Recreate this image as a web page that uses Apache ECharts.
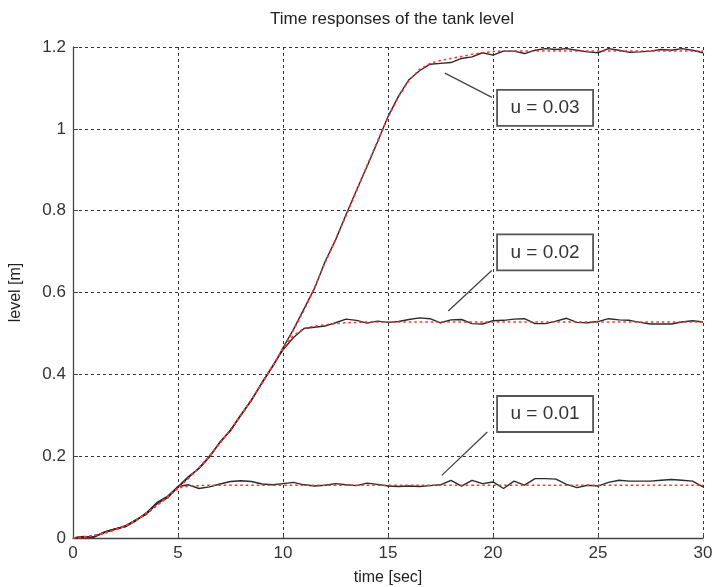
<!DOCTYPE html>
<html>
<head>
<meta charset="utf-8">
<script src="https://cdn.jsdelivr.net/npm/echarts@6/dist/echarts.min.js"></script>
<style>html,body{margin:0;padding:0;background:#fff}#c{width:713px;height:587px}</style>
</head>
<body>
<div id="c"></div>
<script>
// time samples [sec]
const time = [0,0.5,1,1.5,2,2.5,3,3.5,4,4.5,5,5.5,6,6.5,7,7.5,8,8.5,9,9.5,10,10.5,11,11.5,12,12.5,13,13.5,14,14.5,15,15.5,16,16.5,17,17.5,18,18.5,19,19.5,20,20.5,21,21.5,22,22.5,23,23.5,24,24.5,25,25.5,26,26.5,27,27.5,28,28.5,29,29.5,30];

// reference model responses (red dashed)
const ref03 = [0,0.002,0.006,0.012,0.02,0.03,0.043,0.06,0.08,0.1,0.122,0.146,0.172,0.2,0.232,0.265,0.3,0.338,0.378,0.42,0.462,0.508,0.556,0.612,0.672,0.73,0.787,0.848,0.91,0.97,1.028,1.078,1.118,1.145,1.16,1.167,1.172,1.177,1.182,1.186,1.189,1.19,1.19,1.19,1.19,1.19,1.19,1.19,1.19,1.19,1.19,1.19,1.19,1.19,1.19,1.19,1.19,1.19,1.19,1.19,1.19];
const ref02 = [0,0.002,0.006,0.012,0.02,0.03,0.043,0.06,0.08,0.1,0.122,0.146,0.172,0.2,0.232,0.265,0.3,0.338,0.378,0.42,0.462,0.495,0.512,0.518,0.521,0.524,0.526,0.527,0.528,0.528,0.528,0.528,0.528,0.528,0.528,0.528,0.528,0.528,0.528,0.528,0.528,0.528,0.528,0.528,0.528,0.528,0.528,0.528,0.528,0.528,0.528,0.528,0.528,0.528,0.528,0.528,0.528,0.528,0.528,0.528,0.528];
const ref01 = [0,0.002,0.006,0.012,0.02,0.03,0.043,0.06,0.08,0.1,0.122,0.127,0.128,0.129,0.129,0.129,0.129,0.129,0.129,0.129,0.129,0.129,0.129,0.129,0.129,0.129,0.129,0.129,0.129,0.129,0.129,0.129,0.129,0.129,0.129,0.129,0.129,0.129,0.129,0.129,0.129,0.129,0.129,0.129,0.129,0.129,0.129,0.129,0.129,0.129,0.129,0.129,0.129,0.129,0.129,0.129,0.129,0.129,0.129,0.129,0.129];

// measured tank levels (black solid)
const lvl03 = [0,0.004,0.002,0.014,0.022,0.028,0.045,0.058,0.085,0.098,0.125,0.15,0.17,0.198,0.235,0.262,0.302,0.336,0.38,0.418,0.465,0.51,0.56,0.61,0.675,0.728,0.79,0.85,0.908,0.968,1.03,1.08,1.12,1.142,1.158,1.16,1.162,1.172,1.176,1.186,1.18,1.19,1.19,1.184,1.192,1.196,1.194,1.196,1.192,1.188,1.186,1.196,1.192,1.187,1.188,1.19,1.194,1.192,1.196,1.192,1.186];
const lvl02 = [0,0.003,0.004,0.013,0.021,0.03,0.044,0.06,0.083,0.1,0.124,0.148,0.171,0.2,0.233,0.264,0.3,0.338,0.379,0.42,0.46,0.49,0.512,0.515,0.518,0.526,0.535,0.532,0.525,0.53,0.527,0.529,0.534,0.538,0.536,0.526,0.533,0.534,0.524,0.523,0.531,0.532,0.535,0.536,0.524,0.524,0.53,0.537,0.527,0.526,0.529,0.536,0.533,0.532,0.527,0.523,0.523,0.523,0.528,0.531,0.528];
const lvl01 = [0,0.002,0.003,0.015,0.022,0.028,0.042,0.062,0.087,0.102,0.126,0.13,0.121,0.125,0.132,0.138,0.14,0.138,0.132,0.13,0.133,0.136,0.13,0.127,0.129,0.133,0.13,0.128,0.134,0.131,0.127,0.126,0.127,0.126,0.128,0.13,0.141,0.127,0.141,0.133,0.137,0.121,0.139,0.129,0.145,0.145,0.144,0.131,0.123,0.129,0.127,0.136,0.141,0.139,0.139,0.139,0.141,0.143,0.141,0.139,0.125];

// annotation labels: text, box centre [t, level], leader start [t, level], leader end [t, level]
const annText = ['u = 0.03', 'u = 0.02', 'u = 0.01'];
const annBox = [[22.48, 1.051], [22.48, 0.698], [22.48, 0.303]];
const annFrom = [[17.71, 1.136], [17.87, 0.555], [17.56, 0.153]];
const annTo = [[19.95, 1.077], [19.94, 0.654], [19.73, 0.259]];

const xTicks = [0, 5, 10, 15, 20, 25, 30];
const yTicks = [0, 0.2, 0.4, 0.6, 0.8, 1, 1.2];

const pair = arr => time.map((t, i) => [t, arr[i]]);
const FONT = 'Liberation Sans, Arial, sans-serif';

const chart = echarts.init(document.getElementById('c'), null, {renderer: 'canvas'});
const blackLine = (name, d) => ({
  name, type: 'line', data: pair(d), showSymbol: false, symbol: 'none', z: 3,
  lineStyle: {color: '#2a2a2a', width: 1.4}, animation: false
});
const redLine = (name, d) => ({
  name, type: 'line', data: pair(d), showSymbol: false, symbol: 'none', z: 4,
  lineStyle: {color: '#ff3030', width: 1.5, type: [2.5, 3]}, animation: false
});

chart.setOption({
  animation: false,
  backgroundColor: '#fff',
  title: {
    text: 'Time responses of the tank level', left: 387, top: 6, textAlign: 'center',
    textStyle: {fontFamily: FONT, fontSize: 17, fontWeight: 'normal', color: '#222'}
  },
  grid: {left: 73, right: 10, top: 47, bottom: 49, containLabel: false, outerBoundsMode: 'none'},
  xAxis: {
    type: 'value', min: xTicks[0], max: xTicks[xTicks.length - 1], interval: 5,
    name: 'time [sec]', nameLocation: 'middle', nameGap: 32,
    nameTextStyle: {fontFamily: FONT, fontSize: 16, color: '#222'},
    axisLine: {show: true, lineStyle: {color: '#444', width: 1.3}},
    axisTick: {show: true, inside: true, length: 5, lineStyle: {color: '#444'}},
    axisLabel: {fontFamily: FONT, fontSize: 17, color: '#333', margin: 7},
    splitLine: {show: true, lineStyle: {color: '#333', width: 1, type: [3, 3]}}
  },
  yAxis: {
    type: 'value', min: yTicks[0], max: yTicks[yTicks.length - 1], interval: 0.2,
    name: 'level [m]', nameLocation: 'middle', nameGap: 49, nameRotate: 90,
    nameTextStyle: {fontFamily: FONT, fontSize: 16, color: '#222'},
    axisLine: {show: true, lineStyle: {color: '#444', width: 1.3}},
    axisTick: {show: true, inside: true, length: 5, lineStyle: {color: '#444'}},
    axisLabel: {fontFamily: FONT, fontSize: 17, color: '#333', margin: 7},
    splitLine: {show: true, lineStyle: {color: '#333', width: 1, type: [3, 3]}}
  },
  series: [
    blackLine('lvl01', lvl01), blackLine('lvl02', lvl02), blackLine('lvl03', lvl03),
    redLine('ref01', ref01), redLine('ref02', ref02), redLine('ref03', ref03)
  ]
});

const graphics = [];
annText.forEach((txt, i) => {
  const c = chart.convertToPixel({gridIndex: 0}, annBox[i]);
  const a = chart.convertToPixel({gridIndex: 0}, annFrom[i]);
  const b = chart.convertToPixel({gridIndex: 0}, annTo[i]);
  graphics.push({
    type: 'line', z: 10,
    shape: {x1: a[0], y1: a[1], x2: b[0], y2: b[1]},
    style: {stroke: '#444', lineWidth: 1.3}
  });
  graphics.push({
    type: 'rect', z: 10,
    shape: {x: c[0] - 48, y: c[1] - 18, width: 96, height: 36},
    style: {fill: '#fff', stroke: '#555', lineWidth: 1.8}
  });
  graphics.push({
    type: 'text', z: 11, x: c[0], y: c[1],
    style: {text: txt, font: '19px ' + FONT, fill: '#333', align: 'center', verticalAlign: 'middle'}
  });
});
chart.setOption({graphic: graphics});
</script>
</body>
</html>
